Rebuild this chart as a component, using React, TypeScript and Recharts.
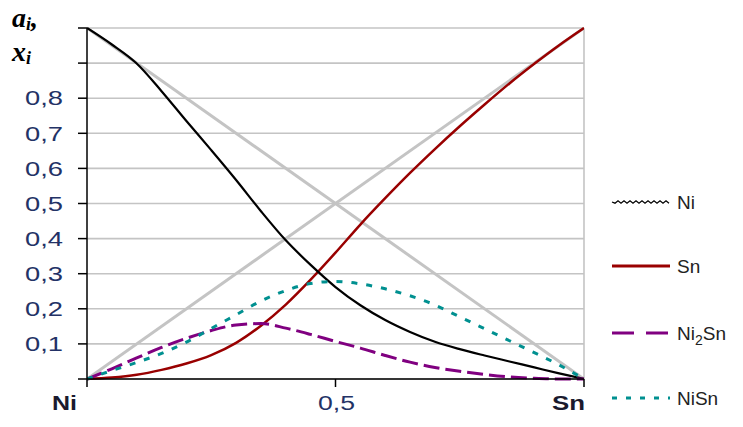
import React from "react"
import { LineChart, Line, XAxis, YAxis, CartesianGrid, ReferenceLine } from "recharts"

// composition, Ni -> Sn
const xs = [0, 0.05, 0.1, 0.15, 0.2, 0.25, 0.3, 0.35, 0.4, 0.45, 0.5, 0.55, 0.6, 0.65, 0.7, 0.75, 0.8, 0.85, 0.9, 0.95, 1]

const aNi = [1, 0.953, 0.899, 0.82, 0.735, 0.652, 0.567, 0.478, 0.395, 0.325, 0.262, 0.21, 0.168, 0.134, 0.106, 0.085, 0.067, 0.05, 0.033, 0.016, 0]
const aSn = [0, 0.004, 0.012, 0.026, 0.044, 0.068, 0.103, 0.152, 0.212, 0.283, 0.36, 0.44, 0.515, 0.587, 0.655, 0.72, 0.782, 0.842, 0.898, 0.951, 1]
const aNi2Sn = [0, 0.029, 0.06, 0.09, 0.116, 0.138, 0.154, 0.158, 0.145, 0.127, 0.107, 0.088, 0.067, 0.048, 0.033, 0.022, 0.013, 0.006, 0.002, 0, 0]
const aNiSn = [0, 0.024, 0.047, 0.073, 0.105, 0.144, 0.183, 0.222, 0.252, 0.272, 0.278, 0.271, 0.257, 0.237, 0.211, 0.177, 0.143, 0.109, 0.075, 0.04, 0]

// ideal mole fractions (grey straight lines)
const idealX = [0, 1]
const xNiIdeal = [1, 0]
const xSnIdeal = [0, 1]

const yTicks = [0, 0.1, 0.2, 0.3, 0.4, 0.5, 0.6, 0.7, 0.8, 0.9, 1]
const yLabels = ["", "0,1", "0,2", "0,3", "0,4", "0,5", "0,6", "0,7", "0,8", "", ""]
const xTicks = [0, 0.5, 1]
const xLabels = ["Ni", "0,5", "Sn"]

const data = xs.map((x, i) => ({ x, ni: aNi[i], sn: aSn[i], ni2sn: aNi2Sn[i], nisn: aNiSn[i] }))
const idealData = idealX.map((x, i) => ({ x, xni: xNiIdeal[i], xsn: xSnIdeal[i] }))

const GREY = "#c4c4c4"
const sans = "'Liberation Sans', Arial, sans-serif"

function YTick(props: any) {
  const { x, y, payload } = props
  const idx = yTicks.indexOf(payload.value)
  const label = yLabels[idx] || ""
  if (!label) return null
  return (
    <text x={x - 13} y={y} dy="0.36em" textAnchor="end" fontFamily={sans} fontSize={20}
      fill="#233266" textLength={38} lengthAdjust="spacingAndGlyphs">
      {label}
    </text>
  )
}

function XTick(props: any) {
  const { x, y, payload } = props
  const idx = xTicks.indexOf(payload.value)
  const label = xLabels[idx]
  if (idx === 1) {
    return (
      <text x={x + 1} y={y + 21} textAnchor="middle" fontFamily={sans} fontSize={20}
        fill="#233266" textLength={37} lengthAdjust="spacingAndGlyphs">{label}</text>
    )
  }
  const right = idx === 0 ? x - 10 : x + 1
  return (
    <text x={right} y={y + 21} textAnchor="end" fontFamily={sans} fontSize={20} fontWeight="bold"
      fill="#1a1a2e" textLength={idx === 0 ? 25 : 33} lengthAdjust="spacingAndGlyphs">{label}</text>
  )
}

const legendItems = [
  { name: "Ni", color: "#000", dash: "", y: 202 },
  { name: "Sn", color: "#990000", dash: "", y: 266 },
  { name: "Ni2Sn", color: "#800080", dash: "22 12", y: 333 },
  { name: "NiSn", color: "#009090", dash: "5 9", y: 398 },
]

function Overlay() {
  const serif = "'Liberation Serif', 'Times New Roman', serif"
  return (
    <svg width={743} height={427} style={{ position: "absolute", left: 0, top: 0, pointerEvents: "none" }}>
      <text x={12} y={27} fontFamily={serif} fontSize={28} fontWeight="bold" fontStyle="italic" fill="#000">
        a<tspan fontSize={18} dy={3}>i</tspan><tspan dy={-3}>,</tspan>
      </text>
      <text x={12} y={61} fontFamily={serif} fontSize={28} fontWeight="bold" fontStyle="italic" fill="#000">
        x<tspan fontSize={18} dy={3}>i</tspan>
      </text>
      {legendItems.map((it) => (
        <g key={it.name}>
          {it.name === "Ni" ? (
            <path
              d={`M612 ${it.y} ` + Array.from({ length: 19 }, (_, k) => `L${615 + k * 3} ${it.y + (k % 2 ? -1.2 : 1.2)}`).join(" ")}
              stroke="#000" strokeWidth={1.3} fill="none"
            />
          ) : (
            <line x1={612} x2={670} y1={it.y} y2={it.y} stroke={it.color} strokeWidth={3}
              strokeDasharray={it.dash || undefined} />
          )}
          <text x={677} y={it.y} dy="0.36em" fontFamily={sans} fontSize={19} fill="#222">
            {it.name === "Ni2Sn" ? (
              <>Ni<tspan fontSize={14} dy={5}>2</tspan><tspan dy={-5}>Sn</tspan></>
            ) : it.name}
          </text>
        </g>
      ))}
    </svg>
  )
}

export default function App() {
  return (
    <div style={{ position: "absolute", left: 0, top: 0, width: 743, height: 427, background: "#fff" }}>
      <LineChart width={743} height={427} data={data} margin={{ top: 28, right: 159, bottom: 18, left: 27 }}>
        <CartesianGrid vertical={false} stroke={GREY} strokeWidth={1.6} />
        <ReferenceLine x={1} stroke={GREY} strokeWidth={1.6} />
        <XAxis dataKey="x" type="number" domain={[0, 1]} ticks={xTicks} interval={0} height={30}
          tickSize={8} tick={<XTick />} stroke="#000" strokeWidth={1.5} allowDataOverflow />
        <YAxis type="number" domain={[0, 1]} ticks={yTicks} interval={0} width={60}
          tickSize={9} tick={<YTick />} stroke="#000" strokeWidth={1.5} />
        <Line data={idealData} dataKey="xni" type="linear" stroke={GREY} strokeWidth={3} dot={false} isAnimationActive={false} />
        <Line data={idealData} dataKey="xsn" type="linear" stroke={GREY} strokeWidth={3} dot={false} isAnimationActive={false} />
        <Line dataKey="sn" type="monotone" stroke="#990000" strokeWidth={2.5} dot={false} isAnimationActive={false} />
        <Line dataKey="ni" type="monotone" stroke="#000" strokeWidth={2.2} dot={false} isAnimationActive={false} />
        <Line dataKey="ni2sn" type="monotone" stroke="#800080" strokeWidth={3} strokeDasharray="16 6" dot={false} isAnimationActive={false} />
        <Line dataKey="nisn" type="monotone" stroke="#009090" strokeWidth={3} strokeDasharray="6 9" dot={false} isAnimationActive={false} />
      </LineChart>
      <Overlay />
    </div>
  )
}
